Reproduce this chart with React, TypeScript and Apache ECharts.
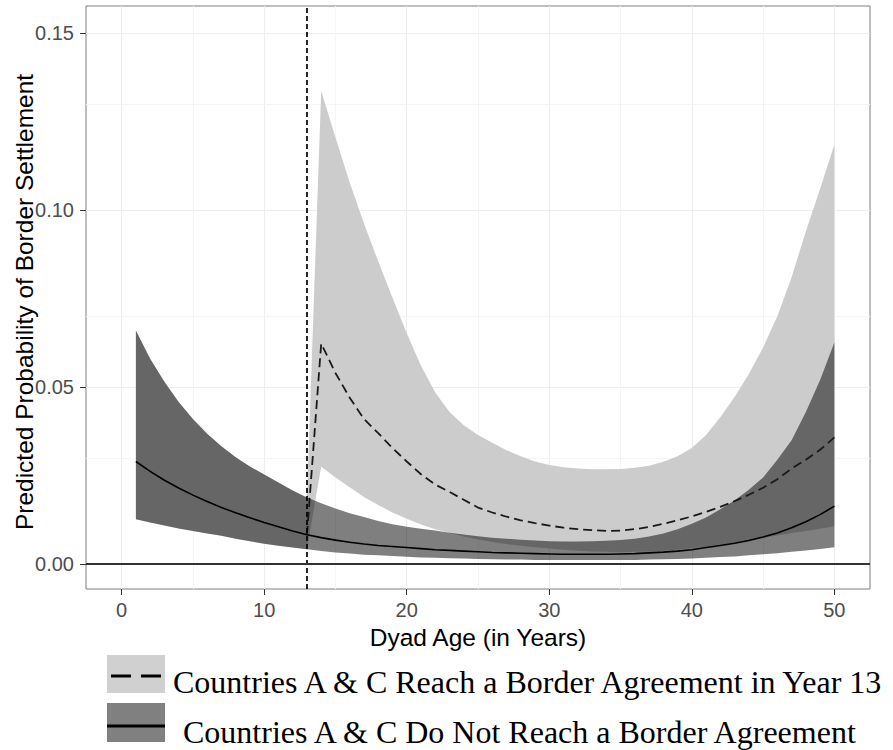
import React, { useEffect, useRef } from "react";
import * as echarts from "echarts";

// Dyad age (years)
const years = [
  1, 2, 3, 4, 5, 6, 7, 8, 9, 10, 11, 12, 13, 14, 15, 16, 17, 18, 19, 20, 21, 22, 23, 24, 25,
  26, 27, 28, 29, 30, 31, 32, 33, 34, 35, 36, 37, 38, 39, 40, 41, 42, 43, 44, 45, 46, 47, 48, 49, 50,
];

// No border agreement: predicted probability and bounds (years 1..50)
const noAgreeMean = [
  0.029, 0.0262, 0.0237, 0.0215, 0.0195, 0.0177, 0.016, 0.0145, 0.0131, 0.0118, 0.0106, 0.0094, 0.0083,
  0.0075, 0.0068, 0.0062, 0.0057, 0.0053, 0.005, 0.0047, 0.0044, 0.0041, 0.0039, 0.0037, 0.0035, 0.0033,
  0.0032, 0.0031, 0.003, 0.0029, 0.0028, 0.0028, 0.0028, 0.0028, 0.0029, 0.003, 0.0032, 0.0034, 0.0037,
  0.0041, 0.0047, 0.0053, 0.0059, 0.0067, 0.0077, 0.0088, 0.0103, 0.012, 0.014, 0.0164,
];
const noAgreeHigh = [
  0.066, 0.058, 0.0515, 0.0458, 0.041, 0.0368, 0.0333, 0.0302, 0.0276, 0.0253, 0.0231, 0.0208, 0.0188,
  0.0172, 0.0157, 0.0144, 0.0133, 0.0122, 0.0113, 0.0106, 0.01, 0.0095, 0.0089, 0.0084, 0.0079, 0.0075,
  0.0072, 0.0069, 0.0067, 0.0065, 0.0064, 0.0064, 0.0065, 0.0066, 0.0068, 0.0072, 0.0078, 0.0087, 0.0099,
  0.0114, 0.0132, 0.0155, 0.018, 0.021, 0.0245, 0.0295, 0.035, 0.043, 0.052, 0.0626,
];
const noAgreeLow = [
  0.0127, 0.0118, 0.0109, 0.0101, 0.0094, 0.0087, 0.008, 0.0072, 0.0065, 0.0058, 0.0052, 0.0047, 0.0042,
  0.0037, 0.0033, 0.003, 0.0027, 0.0025, 0.0023, 0.0021, 0.0019, 0.0018, 0.0017, 0.0016, 0.0015, 0.0014,
  0.0013, 0.0013, 0.0012, 0.0012, 0.0012, 0.0012, 0.0012, 0.0012, 0.0012, 0.0012, 0.0013, 0.0014, 0.0015,
  0.0016, 0.0018, 0.002, 0.0022, 0.0025, 0.0028, 0.0031, 0.0035, 0.0039, 0.0043, 0.0048,
];

// Border agreement in year 13: values for years 14..50 (identical to the above before)
const agreementYear = 13;
const agreeMeanAfter = [
  0.0623, 0.054, 0.047, 0.041, 0.037, 0.0328, 0.029, 0.0254, 0.0225, 0.0204, 0.0182, 0.016, 0.0146,
  0.0134, 0.0124, 0.0116, 0.0109, 0.0103, 0.0099, 0.0096, 0.0094, 0.0095, 0.0099, 0.0105, 0.0114, 0.0124,
  0.0135, 0.0148, 0.0162, 0.0178, 0.0196, 0.0216, 0.024, 0.027, 0.0295, 0.0323, 0.0358,
];
const agreeHighAfter = [
  0.1336, 0.1205, 0.1078, 0.0962, 0.0855, 0.0752, 0.0652, 0.056, 0.0485, 0.043, 0.0392, 0.0365, 0.0343,
  0.0322, 0.0305, 0.029, 0.028, 0.0274, 0.027, 0.0268, 0.0268, 0.0269, 0.0272, 0.0278, 0.0289, 0.0305,
  0.0328, 0.0365, 0.0415, 0.0472, 0.0537, 0.0612, 0.07, 0.081, 0.094, 0.106, 0.1184,
];
const agreeLowAfter = [
  0.0276, 0.0245, 0.0217, 0.019, 0.0167, 0.0146, 0.0128, 0.0112, 0.0099, 0.0088, 0.0078, 0.007, 0.0063,
  0.0057, 0.0052, 0.0048, 0.0044, 0.0041, 0.0038, 0.0036, 0.0035, 0.0034, 0.0035, 0.0036, 0.0038, 0.0041,
  0.0045, 0.005, 0.0055, 0.0061, 0.0067, 0.0074, 0.0081, 0.0088, 0.0094, 0.01, 0.0107,
];

const xTicks = [0, 10, 20, 30, 40, 50];
const yTicks = [0, 0.05, 0.1, 0.15];
const xMinorGrid = [5, 15, 25, 35, 45];
const yMinorGrid = [0.025, 0.075, 0.125];

const xTitle = "Dyad Age (in Years)";
const yTitle = "Predicted Probability of Border Settlement";
const legendLabels = [
  "Countries A & C Reach a Border Agreement in Year 13",
  "Countries A & C Do Not Reach a Border Agreement",
];

const SANS = "'Liberation Sans', Arial, Helvetica, sans-serif";
const SERIF = "'Liberation Serif', 'Times New Roman', serif";

function bandSeries(name: string, low: number[], high: number[], fill: string, z: number) {
  const rows = years.map((x, i) => [x, low[i], high[i]]);
  return {
    type: "custom",
    name,
    silent: true,
    z,
    data: rows,
    encode: { x: 0, y: [1, 2] },
    renderItem: (params: any, api: any) => {
      if (params.dataIndex !== 0) return null;
      const upper = rows.map((r) => api.coord([r[0], r[2]]));
      const lower = rows.map((r) => api.coord([r[0], r[1]])).reverse();
      return {
        type: "polygon",
        shape: { points: upper.concat(lower) },
        style: { fill, stroke: "none" },
      };
    },
  };
}

export default function App() {
  const ref = useRef<HTMLDivElement>(null);

  useEffect(() => {
    document.body.style.margin = "0";
    const chart = echarts.init(ref.current!, null, { renderer: "svg" });

    const nBefore = agreementYear;
    const agreeMean = noAgreeMean.slice(0, nBefore).concat(agreeMeanAfter);
    const agreeHigh = noAgreeHigh.slice(0, nBefore).concat(agreeHighAfter);
    const agreeLow = noAgreeLow.slice(0, nBefore).concat(agreeLowAfter);

    const pairs = (ys: number[]) => years.map((x, i) => [x, ys[i]]);

    const axisCommon = {
      axisLine: { show: false, onZero: false },
      splitLine: { show: true, lineStyle: { color: "#ededed", width: 1 } },
    };

    const option: any = {
      animation: false,
      grid: {
        left: 86,
        right: 23,
        top: 6,
        bottom: 161,
        show: true,
        borderColor: "#7f7f7f",
        borderWidth: 1,
        backgroundColor: "transparent",
        containLabel: false,
        outerBoundsMode: "none",
      },
      xAxis: {
        ...axisCommon,
        type: "value",
        min: -2.5,
        max: 52.5,
        axisTick: {
          show: true,
          length: 6,
          customValues: xTicks,
          lineStyle: { color: "#333", width: 1 },
        },
        axisLabel: {
          customValues: xTicks,
          fontSize: 20,
          color: "#4d4d4d",
          fontFamily: SANS,
          margin: 11,
        },
        name: xTitle,
        nameLocation: "middle",
        nameGap: 27,
        nameTextStyle: { fontSize: 24.5, color: "#000", fontFamily: SANS },
      },
      yAxis: {
        ...axisCommon,
        type: "value",
        min: -0.007,
        max: 0.1576,
        axisTick: {
          show: true,
          length: 6,
          customValues: yTicks,
          lineStyle: { color: "#333", width: 1 },
        },
        axisLabel: {
          customValues: yTicks,
          fontSize: 20,
          color: "#4d4d4d",
          fontFamily: SANS,
          margin: 12,
          formatter: (v: number) => v.toFixed(2),
        },
      },
      series: [
        {
          type: "line",
          name: "minorGrid",
          data: [],
          silent: true,
          z: 1,
          markLine: {
            silent: true,
            z: 1,
            symbol: ["none", "none"],
            label: { show: false },
            lineStyle: { color: "#f5f5f5", width: 1, type: "solid" },
            data: [
              ...xMinorGrid.map((v) => ({ xAxis: v })),
              ...yMinorGrid.map((v) => ({ yAxis: v })),
            ],
          },
        },
        bandSeries("agreeBand", agreeLow, agreeHigh, "#cccccc", 2),
        bandSeries("noAgreeBand", noAgreeLow, noAgreeHigh, "rgba(0,0,0,0.5)", 3),
        {
          type: "line",
          name: "agreeMean",
          z: 4,
          data: pairs(agreeMean).slice(nBefore - 1),
          symbol: "none",
          lineStyle: { color: "#1a1a1a", width: 1.8, type: [9, 5] },
          silent: true,
        },
        {
          type: "line",
          name: "noAgreeMean",
          z: 5,
          data: pairs(noAgreeMean),
          symbol: "none",
          lineStyle: { color: "#000", width: 1.6, type: "solid" },
          silent: true,
          markLine: {
            silent: true,
            z: 6,
            symbol: ["none", "none"],
            label: { show: false },
            data: [
              { xAxis: agreementYear, lineStyle: { color: "#000", width: 1.7, type: [5, 3] } },
              { yAxis: 0, lineStyle: { color: "#333", width: 2, type: "solid" } },
            ],
          },
        },
      ],
      graphic: [
        {
          type: "text",
          x: 24,
          y: 302,
          rotation: Math.PI / 2,
          style: {
            text: yTitle,
            font: `24.5px ${SANS}`,
            fill: "#000",
            textAlign: "center",
            textVerticalAlign: "middle",
          },
        },
        { type: "rect", shape: { x: 107, y: 655, width: 58, height: 38 }, style: { fill: "#d0d0d0" } },
        { type: "line", shape: { x1: 111, y1: 676, x2: 131, y2: 676 }, style: { stroke: "#000", lineWidth: 3 } },
        { type: "line", shape: { x1: 141, y1: 676, x2: 161, y2: 676 }, style: { stroke: "#000", lineWidth: 3 } },
        {
          type: "text",
          x: 173,
          y: 682,
          style: {
            text: legendLabels[0],
            font: `32px ${SERIF}`,
            fill: "#000",
            textVerticalAlign: "middle",
          },
        },
        { type: "rect", shape: { x: 107, y: 703, width: 58, height: 39 }, style: { fill: "#808080" } },
        { type: "line", shape: { x1: 107, y1: 726, x2: 165, y2: 726 }, style: { stroke: "#000", lineWidth: 3 } },
        {
          type: "text",
          x: 183,
          y: 732,
          style: {
            text: legendLabels[1],
            font: `32px ${SERIF}`,
            fill: "#000",
            textVerticalAlign: "middle",
          },
        },
      ],
    };

    chart.setOption(option);
    return () => chart.dispose();
  }, []);

  return (
    <div
      ref={ref}
      style={{ position: "absolute", left: 0, top: 0, width: 893, height: 750 }}
    />
  );
}
